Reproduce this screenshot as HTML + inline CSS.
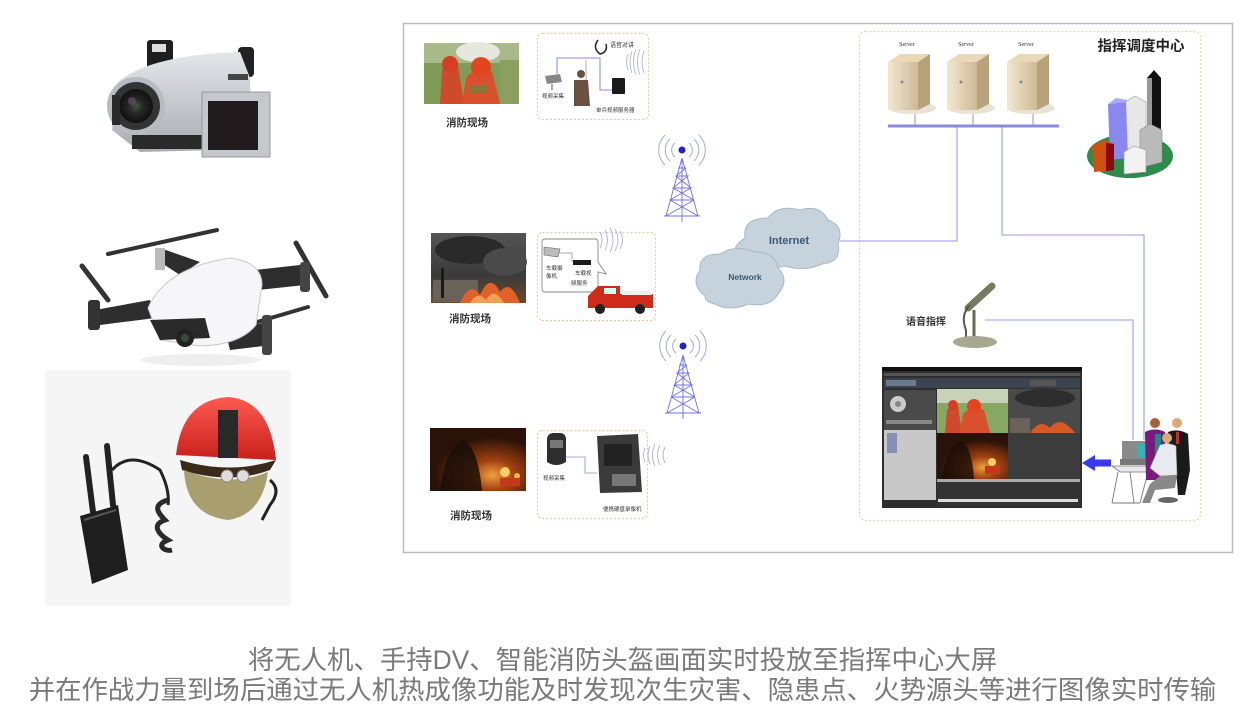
<!DOCTYPE html>
<html><head><meta charset="utf-8">
<style>
html,body{margin:0;padding:0;background:#fff;}
body{width:1245px;height:720px;overflow:hidden;position:relative;}
svg{position:absolute;left:0;top:0;}
.cap{position:absolute;left:0;width:1245px;text-align:center;font-family:"Liberation Sans","Noto Sans CJK SC",sans-serif;font-size:26.4px;color:#7a7a7a;line-height:30px;white-space:nowrap;}
</style></head><body>
<svg width="1245" height="720" viewBox="0 0 1245 720" xmlns="http://www.w3.org/2000/svg" font-family="Liberation Sans, Noto Sans CJK SC, sans-serif">
<defs>
<radialGradient id="lens" cx="50%" cy="50%" r="50%"><stop offset="0" stop-color="#3a5a40"/><stop offset="0.5" stop-color="#222"/><stop offset="1" stop-color="#111"/></radialGradient>
<linearGradient id="silver" x1="0" y1="0" x2="0" y2="1"><stop offset="0" stop-color="#e4e6ea"/><stop offset="1" stop-color="#a8acb2"/></linearGradient>
<linearGradient id="helm" x1="0" y1="0" x2="0" y2="1"><stop offset="0" stop-color="#ff5a52"/><stop offset="1" stop-color="#c8201c"/></linearGradient>
<linearGradient id="srv" x1="0" y1="0" x2="1" y2="0"><stop offset="0" stop-color="#f2e8d2"/><stop offset="1" stop-color="#cdb994"/></linearGradient>
<radialGradient id="fire3" cx="65%" cy="75%" r="60%"><stop offset="0" stop-color="#f0a040"/><stop offset="0.4" stop-color="#a04010"/><stop offset="1" stop-color="#2a1208"/></radialGradient>
<linearGradient id="smoke" x1="0" y1="0" x2="0" y2="1"><stop offset="0" stop-color="#555"/><stop offset="0.6" stop-color="#3a3a3a"/><stop offset="1" stop-color="#6a4a30"/></linearGradient>
</defs>

<!-- ===== LEFT PHOTOS ===== -->
<!-- camcorder -->
<g>
<rect x="147" y="40" width="26" height="33" rx="3" fill="#1e1e1e"/>
<rect x="152" y="44" width="14" height="8" fill="#ddd"/>
<rect x="238" y="47" width="16" height="30" rx="4" fill="#222"/>
<path d="M118 82 Q150 55 240 52 L250 78 L252 140 L220 150 L140 152 L112 130 Z" fill="url(#silver)"/>
<rect x="132" y="135" width="80" height="14" fill="#2a2a2a"/>
<circle cx="136" cy="106" r="29" fill="#b8bcc2"/>
<circle cx="136" cy="106" r="24" fill="#333"/>
<circle cx="136" cy="106" r="17" fill="url(#lens)"/>
<circle cx="132" cy="101" r="4" fill="#6a4a6a" opacity="0.7"/>
<rect x="112" y="95" width="8" height="30" fill="#2a2a2a"/>
<rect x="202" y="92" width="68" height="65" fill="#c4c8cc" stroke="#999" stroke-width="1"/>
<rect x="208" y="101" width="50" height="49" fill="#201a1c"/>
<rect x="228" y="74" width="20" height="6" fill="#444"/>
</g>

<!-- drone -->
<g>
<line x1="108" y1="254" x2="217" y2="230" stroke="#333" stroke-width="4" stroke-linecap="round"/>
<line x1="82" y1="266" x2="108" y2="300" stroke="#333" stroke-width="5" stroke-linecap="round"/>
<line x1="296" y1="243" x2="326" y2="296" stroke="#333" stroke-width="5" stroke-linecap="round"/>
<line x1="213" y1="335" x2="308" y2="307" stroke="#333" stroke-width="4" stroke-linecap="round"/>
<path d="M160 248 L200 262 L180 275 L160 262 Z" fill="#2e2e2e"/>
<rect x="155" y="248" width="10" height="22" fill="#bbb"/>
<path d="M95 310 L150 300 L155 318 L100 325 Z" fill="#2e2e2e"/>
<rect x="88" y="300" width="12" height="30" rx="3" fill="#333"/>
<path d="M255 270 L300 265 L305 285 L258 290 Z" fill="#2e2e2e"/>
<rect x="300" y="262" width="10" height="30" rx="3" fill="#444"/>
<path d="M225 330 L268 322 L272 345 L230 350 Z" fill="#2e2e2e"/>
<rect x="262" y="315" width="10" height="40" rx="3" fill="#444"/>
<path d="M148 308 Q165 268 230 258 Q262 262 262 285 L256 325 Q240 345 200 346 L160 340 Z" fill="#f6f6f8" stroke="#c8c8cc" stroke-width="1"/>
<path d="M150 320 L205 318 L210 338 L160 340 Z" fill="#2a2a2a"/>
<circle cx="185" cy="338" r="9" fill="#222"/>
<circle cx="185" cy="338" r="4" fill="#3a4a3a"/>
<ellipse cx="200" cy="360" rx="60" ry="6" fill="#eee"/>
</g>

<!-- helmet image -->
<rect x="45" y="370" width="246" height="236" fill="#f5f5f5"/>
<g>
<line x1="86" y1="457" x2="93" y2="512" stroke="#222" stroke-width="6" stroke-linecap="round"/>
<line x1="107" y1="446" x2="113" y2="505" stroke="#222" stroke-width="6" stroke-linecap="round"/>
<path d="M80 516 L118 505 L128 570 L92 584 Z" fill="#1e1e1e"/>
<path d="M84 520 L116 510" stroke="#555" stroke-width="2"/>
<path d="M112 470 Q130 450 160 470 Q170 490 168 505" stroke="#222" stroke-width="3" fill="none"/>
<path d="M168 500 C150 505 160 515 165 520 C150 525 160 535 168 540 C155 545 165 552 172 550" stroke="#2a2a2a" stroke-width="5" fill="none"/>
<path d="M176 455 Q182 400 228 397 Q270 400 276 460 Z" fill="url(#helm)"/>
<path d="M180 460 Q230 475 276 460 L270 470 Q230 485 182 470 Z" fill="#3a2a1a"/>
<path d="M184 470 Q186 515 228 520 Q262 515 268 472 Q230 488 184 470 Z" fill="#a49a66" opacity="0.95"/>
<rect x="218" y="410" width="20" height="48" fill="#2a2a2a"/>
<circle cx="227" cy="476" r="6" fill="#ddd" stroke="#888"/>
<circle cx="243" cy="476" r="6" fill="#ddd" stroke="#888"/>
<path d="M270 480 Q282 490 270 505 L262 520" stroke="#222" stroke-width="3" fill="none"/>
</g>

<!-- ===== MAIN DIAGRAM FRAME ===== -->
<rect x="403.5" y="23.5" width="829" height="529" fill="#fff" stroke="#bdbdbd" stroke-width="1.5"/>

<!-- command center dotted box -->
<rect x="859.5" y="31.5" width="341" height="489" rx="6" fill="none" stroke="#ecd2aa" stroke-width="1.2" stroke-dasharray="2 2"/>

<!-- scene dotted boxes -->
<rect x="537.5" y="33.5" width="111" height="86" rx="5" fill="none" stroke="#ecc9a0" stroke-width="1.2" stroke-dasharray="2 2"/>
<rect x="537.5" y="232.5" width="118" height="88" rx="5" fill="none" stroke="#ecc9a0" stroke-width="1.2" stroke-dasharray="2 2"/>
<rect x="537.5" y="430.5" width="110" height="88" rx="5" fill="none" stroke="#ecc9a0" stroke-width="1.2" stroke-dasharray="2 2"/>

<!-- photo 1: firefighters in green -->
<g>
<rect x="424" y="43" width="95" height="61" fill="#7f9c58"/>
<rect x="424" y="43" width="95" height="20" fill="#a9b98a"/>
<ellipse cx="478" cy="52" rx="22" ry="10" fill="#e6e8df"/>
<rect x="500" y="60" width="19" height="44" fill="#8aa060"/>
<path d="M440 104 L442 70 Q448 60 458 66 L464 104 Z" fill="#cf4a2a"/>
<circle cx="450" cy="64" r="8" fill="#d83c22"/>
<path d="M462 104 L466 78 Q475 66 492 72 L500 104 Z" fill="#d8502c"/>
<circle cx="481" cy="67" r="10" fill="#e2461f"/>
<rect x="470" y="85" width="18" height="8" fill="#5a8a3a" opacity="0.6"/>
</g>
<text x="467" y="126" font-size="10.5" font-weight="bold" fill="#333" text-anchor="middle">消防现场</text>

<!-- photo 2: smoky fire -->
<g>
<rect x="431" y="233" width="95" height="70" fill="url(#smoke)"/>
<ellipse cx="470" cy="250" rx="35" ry="14" fill="#2a2a2a"/>
<ellipse cx="505" cy="262" rx="22" ry="14" fill="#4a4a4a"/>
<rect x="433" y="280" width="45" height="22" fill="#6a6258"/>
<path d="M460 303 Q470 280 480 295 Q490 272 500 292 Q510 278 520 303 Z" fill="#e0602a"/>
<path d="M470 303 Q478 290 486 300 Q494 286 504 303 Z" fill="#f0a050"/>
<rect x="441" y="268" width="3" height="30" fill="#1a1a1a"/>
</g>
<text x="470" y="322" font-size="10.5" font-weight="bold" fill="#333" text-anchor="middle">消防现场</text>

<!-- photo 3: dark fire -->
<g>
<rect x="430" y="428" width="96" height="63" fill="url(#fire3)"/>
<path d="M440 491 Q445 450 462 440 Q478 445 482 491 Z" fill="#1a0e08" opacity="0.85"/>
<circle cx="505" cy="472" r="5" fill="#ffcc66"/>
<circle cx="517" cy="476" r="3" fill="#ffb050"/>
<rect x="500" y="478" width="20" height="8" fill="#c23a1a"/>
</g>
<text x="471" y="519" font-size="10.5" font-weight="bold" fill="#333" text-anchor="middle">消防现场</text>

<!-- box 1 contents -->
<g>
<polyline points="557,74 557,58 600,58 600,90 614,90" fill="none" stroke="#8888dd" stroke-width="1"/>
<line x1="586" y1="60" x2="586" y2="80" stroke="#999" stroke-width="0.8"/>
<path d="M598 40 Q592 48 600 54 Q608 52 606 44" fill="#fff" stroke="#222" stroke-width="1.5"/>
<text x="610" y="47" font-size="6" fill="#333">语音对讲</text>
<path d="M545 76 L560 74 L562 82 L547 84 Z" fill="#888"/>
<line x1="552" y1="84" x2="552" y2="90" stroke="#555"/>
<text x="542" y="98" font-size="5.5" fill="#333">视频采集</text>
<ellipse cx="581" cy="74" rx="4" ry="4" fill="#6a5040"/>
<path d="M574 80 L588 80 L590 106 L574 106 Z" fill="#6a5040"/>
<rect x="612" y="78" width="13" height="16" rx="1" fill="#1a1a1a"/>
<text x="596" y="112" font-size="5.5" fill="#333">单兵视频服务器</text>
<path d="M628 54 Q625 62 628 70" stroke="#b0b0e0" fill="none" stroke-width="0.9"/>
<path d="M632 51 Q628 62 632 73" stroke="#b0b0e0" fill="none" stroke-width="0.9"/>
<path d="M636 49 Q631 62 636 75" stroke="#b0b0e0" fill="none" stroke-width="0.9"/>
<path d="M640 49 Q635 62 640 75" stroke="#b0b0e0" fill="none" stroke-width="0.9"/>
<path d="M644 51 Q640 62 644 73" stroke="#b0b0e0" fill="none" stroke-width="0.9"/>
</g>

<!-- box 2 contents -->
<g>
<path d="M545 239 L595 239 Q598 239 598 242 L598 262 L606 274 L598 272 L598 289 Q598 292 595 292 L545 292 Q542 292 542 289 L542 242 Q542 239 545 239 Z" fill="#fff" stroke="#888" stroke-width="0.9"/>
<path d="M544 247 L560 249 L558 257 L544 255 Z" fill="#bbb" stroke="#666" stroke-width="0.6"/>
<polyline points="558,253 572,253 572,262" fill="none" stroke="#8888dd" stroke-width="0.8"/>
<rect x="573" y="260" width="18" height="5" fill="#1a1a1a"/>
<text x="546" y="270" font-size="5.5" fill="#333">车载摄</text>
<text x="546" y="278" font-size="5.5" fill="#333">像机</text>
<text x="575" y="275" font-size="5.5" fill="#333">车载视</text>
<text x="571" y="285" font-size="5.5" fill="#333">频服务</text>
<path d="M600 232 Q604 240 600 248" stroke="#b0b0e0" fill="none" stroke-width="0.9"/>
<path d="M605 230 Q610 240 605 250" stroke="#b0b0e0" fill="none" stroke-width="0.9"/>
<path d="M610 228 Q616 240 610 252" stroke="#b0b0e0" fill="none" stroke-width="0.9"/>
<path d="M615 229 Q621 240 615 251" stroke="#b0b0e0" fill="none" stroke-width="0.9"/>
<path d="M620 231 Q625 240 620 249" stroke="#b0b0e0" fill="none" stroke-width="0.9"/>
<path d="M588 296 L598 286 L620 286 L620 294 L653 294 L653 308 L588 308 Z" fill="#d02a1a"/>
<rect x="604" y="288" width="12" height="6" fill="#cfe"/>
<rect x="622" y="291" width="30" height="4" fill="#eee"/>
<circle cx="600" cy="309" r="5" fill="#222"/>
<circle cx="640" cy="309" r="5" fill="#222"/>
</g>

<!-- box 3 contents -->
<g>
<path d="M547 440 Q547 433 554 433 L560 433 Q566 433 566 440 L566 462 Q556 468 547 462 Z" fill="#2e2e2e"/>
<rect x="550" y="440" width="13" height="8" fill="#777"/>
<text x="543" y="480" font-size="5.5" fill="#333">视频采集</text>
<polyline points="566,457 585,457 585,473 597,473" fill="none" stroke="#8888dd" stroke-width="0.8"/>
<path d="M597 436 L638 434 L642 492 L600 493 Z" fill="#3a3a3a"/>
<rect x="604" y="444" width="28" height="22" fill="#222"/>
<rect x="612" y="474" width="24" height="12" fill="#777"/>
<text x="603" y="511" font-size="5.5" fill="#333">便携硬盘录像机</text>
<path d="M645 448 Q642 455 645 462" stroke="#b0b0e0" fill="none" stroke-width="0.9"/>
<path d="M650 446 Q646 455 650 464" stroke="#b0b0e0" fill="none" stroke-width="0.9"/>
<path d="M655 444 Q650 455 655 466" stroke="#b0b0e0" fill="none" stroke-width="0.9"/>
<path d="M660 445 Q655 455 660 465" stroke="#b0b0e0" fill="none" stroke-width="0.9"/>
<path d="M665 447 Q661 455 665 463" stroke="#b0b0e0" fill="none" stroke-width="0.9"/>
</g>

<!-- towers -->
<g stroke="#7070e8" stroke-width="0.9" fill="none">
<path d="M682 158 L666 216 M682 158 L698 216 M682 158 L682 222 M670 200 L694 200 M673 188 L691 188 M676 176 L688 176 M678 168 L686 168 M670 200 L691 188 L673 188 L688 176 L676 176 L686 168 M694 200 L673 188 M691 188 L676 176 M664 216 L700 216 M666 216 L694 200 M698 216 L670 200"/>
<path d="M683 355 L667 413 M683 355 L699 413 M683 355 L683 419 M671 397 L695 397 M674 385 L692 385 M677 373 L689 373 M679 365 L687 365 M671 397 L692 385 L674 385 L689 373 L677 373 L687 365 M695 397 L674 385 M692 385 L677 373 M665 413 L701 413 M667 413 L695 397 M699 413 L671 397"/>
</g>
<circle cx="682" cy="150" r="3.5" fill="#2020d0"/>
<circle cx="683" cy="346" r="3.5" fill="#2020d0"/>
<g stroke="#a8a8d8" stroke-width="1" fill="none">
<path d="M675 143 A9 9 0 0 0 675 157"/><path d="M689 143 A9 9 0 0 1 689 157"/>
<path d="M670 139 A15 15 0 0 0 670 161"/><path d="M694 139 A15 15 0 0 1 694 161"/>
<path d="M665 135 A21 21 0 0 0 665 165"/><path d="M699 135 A21 21 0 0 1 699 165"/>
<path d="M676 339 A9 9 0 0 0 676 353"/><path d="M690 339 A9 9 0 0 1 690 353"/>
<path d="M671 335 A15 15 0 0 0 671 357"/><path d="M695 335 A15 15 0 0 1 695 357"/>
<path d="M666 331 A21 21 0 0 0 666 361"/><path d="M700 331 A21 21 0 0 1 700 361"/>
</g>

<!-- clouds -->
<g fill="#c6d3dc" stroke="#a8b8c4" stroke-width="1">
<path d="M740 262 Q728 248 745 238 Q742 218 768 218 Q778 204 800 210 Q820 204 828 220 Q845 226 838 244 Q842 262 822 264 Q805 272 785 266 Q760 272 740 262 Z"/>
<path d="M705 296 Q690 284 700 270 Q698 254 720 254 Q735 244 755 252 Q775 252 778 268 Q790 280 778 294 Q770 308 748 304 Q730 312 715 304 Q705 302 705 296 Z"/>
</g>
<text x="789" y="244" font-size="11" font-weight="bold" fill="#3b5878" text-anchor="middle">Internet</text>
<text x="745" y="280" font-size="8.5" font-weight="bold" fill="#3b5878" text-anchor="middle">Network</text>

<!-- connector lines -->
<g stroke="#9a9ae8" stroke-width="1.1" fill="none">
<polyline points="840,241 957,241 957,126"/>
<polyline points="1002,126 1002,235 1144,235 1144,440"/>
<polyline points="985,320 1133,320 1133,440"/>
<line x1="915" y1="110" x2="915" y2="126"/>
<line x1="973" y1="110" x2="973" y2="126"/>
<line x1="1033" y1="110" x2="1033" y2="126"/>
</g>
<line x1="888" y1="126" x2="1059" y2="126" stroke="#8a8ae0" stroke-width="3"/>

<!-- servers -->
<g font-family="Liberation Serif, serif" font-size="6" fill="#333" text-anchor="middle">
<text x="907" y="46">Server</text><text x="966" y="46">Server</text><text x="1026" y="46">Server</text>
</g>
<g>
<ellipse cx="912" cy="108" rx="24" ry="6" fill="#e8e2d4"/>
<path d="M888 62 L900 54 L930 54 L930 104 L920 110 L888 110 Z" fill="#ead9b8"/>
<path d="M888 62 L918 62 L918 110 L888 110 Z" fill="url(#srv)"/>
<path d="M918 62 L930 54 L930 104 L918 110 Z" fill="#b8a27c"/>
<circle cx="902" cy="82" r="1.5" fill="#888"/>
<ellipse cx="971" cy="108" rx="24" ry="6" fill="#e8e2d4"/>
<path d="M947 62 L959 54 L989 54 L989 104 L979 110 L947 110 Z" fill="#ead9b8"/>
<path d="M947 62 L977 62 L977 110 L947 110 Z" fill="url(#srv)"/>
<path d="M977 62 L989 54 L989 104 L977 110 Z" fill="#b8a27c"/>
<circle cx="961" cy="82" r="1.5" fill="#888"/>
<ellipse cx="1031" cy="108" rx="24" ry="6" fill="#e8e2d4"/>
<path d="M1007 62 L1019 54 L1049 54 L1049 104 L1039 110 L1007 110 Z" fill="#ead9b8"/>
<path d="M1007 62 L1037 62 L1037 110 L1007 110 Z" fill="url(#srv)"/>
<path d="M1037 62 L1049 54 L1049 104 L1037 110 Z" fill="#b8a27c"/>
<circle cx="1021" cy="82" r="1.5" fill="#888"/>
</g>

<text x="1141" y="51" font-size="14.5" font-weight="bold" fill="#222" text-anchor="middle" font-family="Liberation Sans, Noto Sans CJK SC, sans-serif">指挥调度中心</text>

<!-- buildings -->
<g>
<ellipse cx="1130" cy="156" rx="43" ry="22" fill="#2f8a4e"/>
<path d="M1147 78 L1154 70 L1161 78 L1161 140 L1147 146 Z" fill="#111"/>
<rect x="1147" y="78" width="5" height="66" fill="#999"/>
<path d="M1125 102 L1135 96 L1146 102 L1146 158 L1125 162 Z" fill="#e8e8e8" stroke="#999" stroke-width="0.6"/>
<path d="M1108 104 L1126 102 L1128 158 L1110 160 Z" fill="#8888f0"/>
<path d="M1108 104 L1116 98 L1128 100 L1126 102 Z" fill="#aaaaff"/>
<path d="M1140 130 L1150 124 L1162 130 L1162 162 L1140 168 Z" fill="#bbb" stroke="#888" stroke-width="0.6"/>
<path d="M1124 152 L1134 146 L1146 150 L1146 172 L1124 174 Z" fill="#f2f2f2" stroke="#999" stroke-width="0.6"/>
<path d="M1092 146 L1104 140 L1114 144 L1114 170 L1094 172 Z" fill="#d0500e"/>
<path d="M1106 143 L1114 144 L1114 170 L1106 171 Z" fill="#8a0a0a"/>
</g>

<!-- microphone -->
<g>
<line x1="992" y1="286" x2="968" y2="308" stroke="#7a7a60" stroke-width="7" stroke-linecap="round"/>
<path d="M970 305 Q960 315 966 330 L966 340" stroke="#5a5a40" stroke-width="2" fill="none"/>
<line x1="974" y1="310" x2="974" y2="340" stroke="#6a6a50" stroke-width="3"/>
<ellipse cx="975" cy="342" rx="22" ry="6" fill="#a8a890"/>
</g>
<text x="926" y="325" font-size="10" font-weight="bold" fill="#333" text-anchor="middle">语音指挥</text>

<!-- software screen -->
<g>
<rect x="882" y="367" width="200" height="141" fill="#2e2e2e"/>
<rect x="882" y="367" width="200" height="4" fill="#111"/>
<rect x="884" y="373" width="196" height="3" fill="#555"/>
<rect x="884" y="378" width="196" height="10" fill="#3c4450"/>
<rect x="886" y="380" width="30" height="6" fill="#6a7a8a"/>
<rect x="1030" y="380" width="26" height="6" fill="#555"/>
<rect x="884" y="390" width="52" height="40" fill="#4a4a4a"/>
<circle cx="898" cy="404" r="8" fill="#ccc"/>
<circle cx="898" cy="404" r="3" fill="#888"/>
<rect x="884" y="430" width="52" height="70" fill="#c8c8c8"/>
<rect x="886" y="420" width="46" height="4" fill="#888"/>
<rect x="887" y="433" width="10" height="20" fill="#5a6aaa" opacity="0.6"/>
<!-- tile1 -->
<rect x="937" y="389" width="71" height="44" fill="#87a862"/>
<rect x="937" y="389" width="71" height="14" fill="#c8d2b8"/>
<path d="M945 433 L947 410 Q952 402 958 406 L962 433 Z" fill="#cf4a2a"/>
<circle cx="953" cy="405" r="5" fill="#d83c22"/>
<path d="M960 433 L963 414 Q972 404 984 410 L990 433 Z" fill="#d8502c"/>
<circle cx="974" cy="406" r="7" fill="#e2461f"/>
<!-- tile2 -->
<rect x="1008" y="389" width="72" height="44" fill="#4a4a4a"/>
<ellipse cx="1045" cy="398" rx="30" ry="9" fill="#2e2e2e"/>
<path d="M1030 433 Q1040 418 1050 428 Q1060 414 1075 433 Z" fill="#d65a28"/>
<rect x="1010" y="418" width="20" height="15" fill="#6a625a"/>
<!-- tile3 -->
<rect x="937" y="433" width="71" height="46" fill="url(#fire3)"/>
<path d="M942 479 Q946 448 960 440 Q972 446 974 479 Z" fill="#1a0e08" opacity="0.8"/>
<circle cx="992" cy="462" r="4" fill="#ffcc66"/>
<rect x="985" y="466" width="15" height="8" fill="#c23a1a"/>
<!-- tile4 -->
<rect x="1008" y="433" width="72" height="46" fill="#3c3c3c"/>
<rect x="937" y="479" width="143" height="3" fill="#aaa"/>
<rect x="937" y="482" width="143" height="24" fill="#333"/>
<rect x="938" y="499" width="140" height="3" fill="#ddd"/>
</g>

<!-- blue arrow -->
<path d="M1111 459.5 L1095 459.5 L1095 455 L1082 463 L1095 471 L1095 466.5 L1111 466.5 Z" fill="#3838ee"/>

<!-- operators -->
<g>
<path d="M1112 466 L1150 466 L1158 472 L1120 472 Z" fill="#e8e8ee" stroke="#777" stroke-width="0.8"/>
<line x1="1118" y1="472" x2="1112" y2="503" stroke="#777" stroke-width="0.9"/>
<line x1="1130" y1="472" x2="1134" y2="503" stroke="#777" stroke-width="0.9"/>
<line x1="1148" y1="472" x2="1140" y2="503" stroke="#777" stroke-width="0.9"/>
<line x1="1112" y1="503" x2="1140" y2="503" stroke="#777" stroke-width="0.9"/>
<rect x="1122" y="441" width="24" height="19" fill="#8a8a8a"/>
<rect x="1138" y="444" width="7" height="14" fill="#3ab0b8"/>
<rect x="1120" y="459" width="28" height="6" fill="#777"/>
<!-- woman -->
<circle cx="1155" cy="423" r="5" fill="#a8603a"/>
<path d="M1145 432 Q1155 427 1165 432 L1165 480 L1146 480 Z" fill="#7a1a7a"/>
<rect x="1155" y="434" width="6" height="30" fill="#1a8a8a"/>
<!-- man standing -->
<circle cx="1177" cy="423" r="5" fill="#e0a878"/>
<path d="M1168 432 Q1178 428 1188 434 L1190 470 L1185 495 L1178 495 L1176 470 L1170 460 Z" fill="#1a1a1a"/>
<rect x="1176" y="432" width="3" height="12" fill="#c03030"/>
<!-- seated man -->
<circle cx="1167" cy="438" r="5" fill="#e0a878"/>
<path d="M1160 445 Q1168 442 1176 446 L1177 475 L1160 476 L1150 468 Z" fill="#e8eaf0" stroke="#999" stroke-width="0.6"/>
<path d="M1160 476 L1177 475 L1175 488 L1155 490 L1150 503 L1142 503 L1150 484 Z" fill="#888"/>
<ellipse cx="1168" cy="500" rx="10" ry="3" fill="#666"/>
</g>
</svg>

<div class="cap" style="top:645px;">将无人机、手持DV、智能消防头盔画面实时投放至指挥中心大屏</div>
<div class="cap" style="top:675px;">并在作战力量到场后通过无人机热成像功能及时发现次生灾害、隐患点、火势源头等进行图像实时传输</div>
</body></html>
